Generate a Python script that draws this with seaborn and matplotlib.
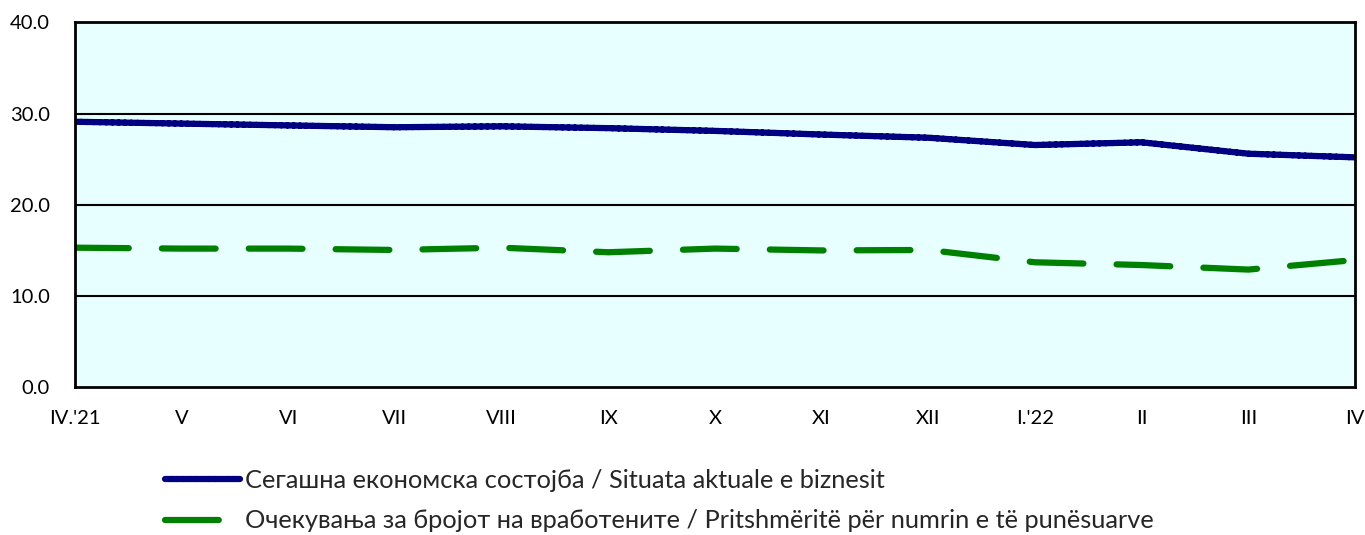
import pandas as pd
import seaborn as sns
import matplotlib.pyplot as plt

months = ["IV.'21", "V", "VI", "VII", "VIII", "IX", "X", "XI", "XII", "I.'22", "II", "III", "IV"]
current = [29.1, 28.9, 28.7, 28.5, 28.6, 28.4, 28.1, 27.7, 27.35, 26.55, 26.85, 25.6, 25.2]
employ = [15.3, 15.2, 15.2, 15.05, 15.3, 14.8, 15.2, 15.0, 15.05, 13.7, 13.4, 12.9, 13.95]

lab1 = "Сегашна економска состојба / Situata aktuale e biznesit"
lab2 = "Очекувања за бројот на вработените / Pritshmëritë për numrin e të punësuarve"

sns.set_style("white")
plt.rcParams['font.family'] = ['Lato', 'Noto Sans', 'DejaVu Sans']

df = pd.DataFrame({'pos': range(len(months)), lab1: current, lab2: employ})
long = df.melt(id_vars='pos', var_name='series', value_name='val')

fig = plt.figure(figsize=(13.65, 5.35), dpi=100)
ax = fig.add_axes([75/1365, 1-387.3/535, 1280/1365, 365/535])
ax.set_facecolor('#E8FFFF')

sns.lineplot(data=long, x='pos', y='val', hue='series', style='series',
             palette=['#000080', '#008000'], dashes=[(1, 0), (8.6, 5.3)],
             linewidth=4.5, ax=ax, legend=False)
for ln in ax.lines:
    ln.set_solid_capstyle('round')
    ln.set_dash_capstyle('round')
    ln.set_solid_joinstyle('round')

ax.set_xlim(0, 12)
ax.set_ylim(0, 40)
ax.set_yticks([0, 10, 20, 30, 40])
ax.set_yticklabels([f"{v:.1f}" for v in [0, 10, 20, 30, 40]])
ax.set_xticks(range(len(months)))
ax.set_xticklabels(months)
ax.set_xlabel('')
ax.set_ylabel('')
for y in [10, 20, 30]:
    ax.axhline(y, color='black', lw=1.5, zorder=1)
for s in ax.spines.values():
    s.set_color('black')
    s.set_linewidth(2)
ax.tick_params(axis='both', direction='out', length=7, width=2, color='black',
               labelsize=14.5, labelcolor='black')
ax.tick_params(axis='x', pad=9)
ax.tick_params(axis='y', pad=11)

handles = ax.lines[:2]
fig.legend(handles, [lab1, lab2], loc='upper left', bbox_to_anchor=(155/1365, 1-459/535),
           frameon=False, fontsize=18.3, handlelength=2.95, handletextpad=0.2,
           labelspacing=0.68, borderaxespad=0)

fig.savefig('out.png', dpi=100)
